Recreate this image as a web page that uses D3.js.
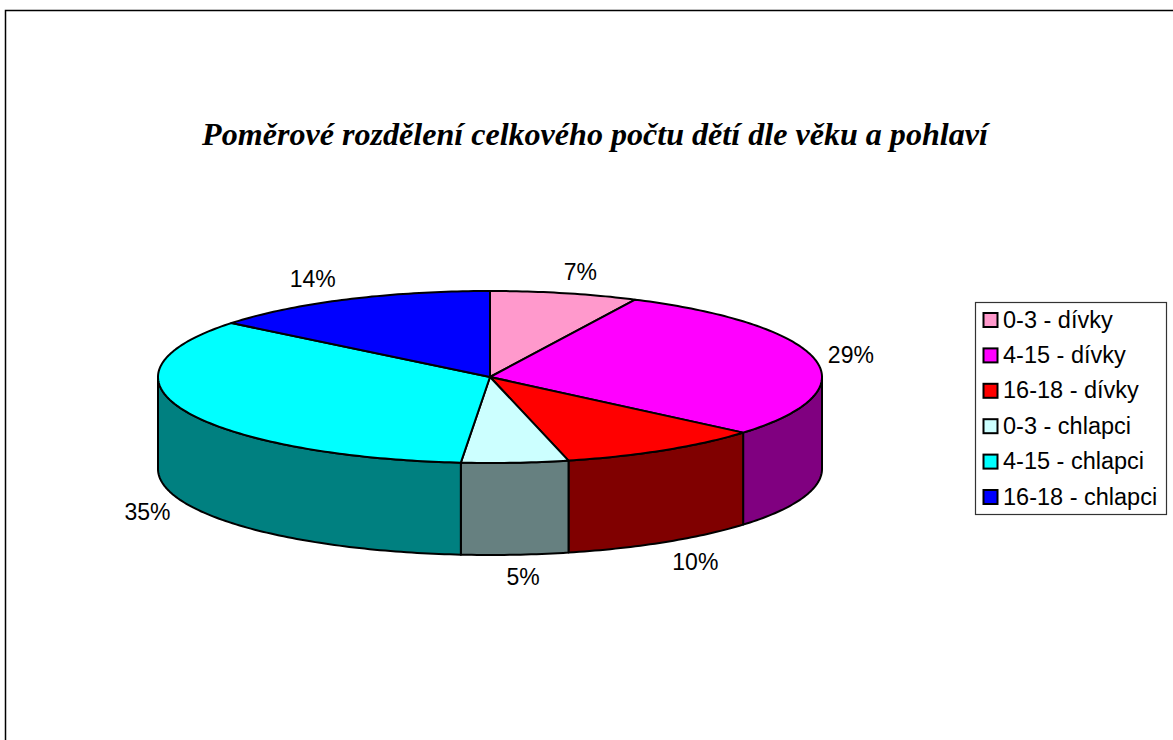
<!DOCTYPE html>
<html>
<head>
<meta charset="utf-8">
<script src="https://cdn.jsdelivr.net/npm/d3@7"></script>
<style>
  html, body { margin: 0; padding: 0; background: white; }
  svg { display: block; }
</style>
</head>
<body>
<div id="chart"></div>
<script>
const chartTitle = "Poměrové rozdělení celkového počtu dětí dle věku a pohlaví"
const categories = ["0-3 - dívky", "4-15 - dívky", "16-18 - dívky", "0-3 - chlapci", "4-15 - chlapci", "16-18 - chlapci"]
// shares, the printed labels are kept as they are in the picture
const shares = [7.2, 29, 10, 5.2, 34.4, 14.2]
const shareLabels = ["7%", "29%", "10%", "5%", "35%", "14%"]
const topColors = ["#FF99CC", "#FF00FF", "#FF0000", "#CCFFFF", "#00FFFF", "#0000FF"]
const sideColors = ["#804C66", "#800080", "#800000", "#668080", "#008080", "#000080"]
// hand placed, excel puts them outside the pie
const labelOffsets = [[16, -13], [36, 4], [31, 28], [8, 30], [-37, 17], [-34, -12]]

const width = 1173, height = 740
const cx = 490, cy = 377, rx = 332, ry = 86, depth = 92

const svg = d3.select("#chart").append("svg")
    .attr("width", width)
    .attr("height", height)

// frame, only top and left show up in the picture
svg.append("path")
    .attr("d", "M5.5,740V10.5H1173")
    .attr("fill", "none")
    .attr("stroke", "black")
    .attr("stroke-width", 1.5)

svg.append("text")
    .text(chartTitle)
    .attr("x", 595)
    .attr("y", 145)
    .attr("text-anchor", "middle")
    .attr("font-family", "Liberation Serif")
    .attr("font-size", "32.1px")
    .attr("font-weight", "bold")
    .attr("font-style", "italic")

const x = d3.scaleLinear().domain([-1, 1]).range([cx - rx, cx + rx])
const y = d3.scaleLinear().domain([-1, 1]).range([cy + ry, cy - ry])

const arcs = d3.pie().sort(null)(shares)

const px = a => x(Math.sin(a))
const py = a => y(Math.cos(a))

const samples = (a0, a1) => {
    let n = Math.max(2, Math.ceil((a1 - a0) * 60))
    return d3.range(n + 1).map(i => a0 + (a1 - a0) * i / n)
}

const rimLine = d3.line().x(a => px(a)).y(a => py(a))

// walls, only the front half of the ellipse
arcs.forEach((d, i) => {
    let a0 = Math.max(d.startAngle, Math.PI / 2)
    let a1 = Math.min(d.endAngle, Math.PI * 1.5)
    if (a1 <= a0) return
    let rim = samples(a0, a1)
    let top = rim.map(a => [px(a), py(a)])
    let bottom = rim.slice().reverse().map(a => [px(a), py(a) + depth])
    svg.append("path")
        .attr("d", d3.line()(top.concat(bottom)) + "Z")
        .attr("fill", sideColors[i])
        .attr("stroke", "black")
        .attr("stroke-width", 2)
        .attr("stroke-linejoin", "round")
})

// top faces
arcs.forEach((d, i) => {
    let rim = samples(d.startAngle, d.endAngle)
    svg.append("path")
        .attr("d", "M" + x(0) + "," + y(0) + "L" + rimLine(rim).slice(1) + "Z")
        .attr("fill", topColors[i])
        .attr("stroke", "black")
        .attr("stroke-width", 2)
        .attr("stroke-linejoin", "round")
})

// percent labels
arcs.forEach((d, i) => {
    let mid = (d.startAngle + d.endAngle) / 2
    svg.append("text")
        .text(shareLabels[i])
        .attr("x", px(mid) + labelOffsets[i][0])
        .attr("y", py(mid) + (Math.cos(mid) < 0 ? depth : 0) + labelOffsets[i][1])
        .attr("text-anchor", "middle")
        .attr("font-family", "Liberation Sans")
        .attr("font-size", "23px")
        .attr("fill", "black")
})

// legend
svg.append("rect")
    .attr("x", 975.5)
    .attr("y", 302.5)
    .attr("width", 191)
    .attr("height", 212)
    .attr("fill", "white")
    .attr("stroke", "#333")
    .attr("stroke-width", 1.2)

const legendY = d3.scalePoint().domain(categories).range([320, 497])

categories.forEach((name, i) => {
    let yy = legendY(name)
    svg.append("rect")
        .attr("x", 983.5)
        .attr("y", yy - 7)
        .attr("width", 14)
        .attr("height", 14)
        .attr("fill", topColors[i])
        .attr("stroke", "black")
        .attr("stroke-width", 2)
    svg.append("text")
        .text(name)
        .attr("x", 1003)
        .attr("y", yy + 7.5)
        .attr("font-family", "Liberation Sans")
        .attr("font-size", "23.5px")
        .attr("fill", "black")
})
</script>
</body>
</html>
